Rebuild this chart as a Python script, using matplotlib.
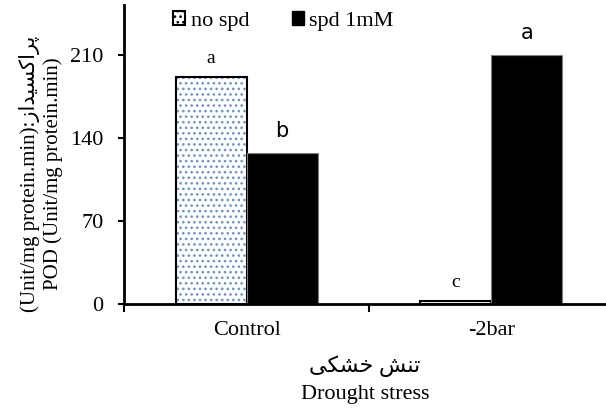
import numpy as np
import matplotlib.pyplot as plt
from matplotlib.patches import Patch

# data
categories = ['Control', '-2bar']
no_spd = [191.5, 2.5]
spd_1mM = [127.0, 210.0]
letters_no_spd = ['a', 'c']
letters_spd = ['b', 'a']
yticks = [0, 70, 140, 210]

# Persian text, pre-shaped (presentation forms, visual order)
fa_xlabel = '\uFBFD\uFB91\uFEB8\uFEA7 \uFEB6\uFEE8\uFE97'          # تنش خشکی
fa_ylabel = '\uFEAF\uFE8D\uFEAA\uFBFF\uFEB4\uFB90\uFE8D\uFEAE\uFB58'  # پراکسیداز

serif = ['Liberation Serif', 'DejaVu Sans']
plt.rcParams['font.family'] = serif
plt.rcParams['font.size'] = 16
plt.rcParams['hatch.linewidth'] = 1.1

fig = plt.figure(figsize=(6.06, 4.08), dpi=100)
ax = fig.add_axes([0.205, 0.255, 0.795, 0.733])

x = np.arange(len(categories))
w = 0.29

# no spd: dotted blue pattern, black outline
ax.bar(x - w / 2, no_spd, w, color='white', edgecolor='#6a95cc', hatch='...',
       linewidth=0)
ax.bar(x - w / 2, no_spd, w, fill=False, edgecolor='black', linewidth=1.5)
ax.bar(x + w / 2, spd_1mM, w, color='black', edgecolor='#808080', linewidth=0.8)

# significance letters
for xi, v, t in zip(x, no_spd, letters_no_spd):
    ax.text(xi - w / 2, v + 8, t, ha='center', va='bottom', fontsize=14,
            family=serif)
for xi, v, t in zip(x, spd_1mM, letters_spd):
    ax.text(xi + w / 2, v + 10, t, ha='center', va='bottom', fontsize=15,
            family='DejaVu Sans')

ax.set_xlim(-0.5, 1.468)
ax.set_ylim(0, 252)
ax.set_yticks(yticks)
ax.set_xticks([-0.5, 0.5])
ax.set_xticklabels([])
ax.set_xticks(x, minor=True)
ax.set_xticklabels(categories, minor=True)
ax.tick_params(axis='x', which='minor', length=0, pad=12, labelsize=16)
ax.tick_params(axis='x', which='major', length=6, width=1.5)
ax.tick_params(axis='y', length=4, width=1.5, labelsize=16, pad=11)

for s in ['top', 'right']:
    ax.spines[s].set_visible(False)
for s in ['left', 'bottom']:
    ax.spines[s].set_linewidth(2)

ax.set_xlabel(fa_xlabel + '\nDrought stress', fontsize=16, labelpad=11,
              linespacing=1.6)
ax.set_ylabel('(Unit/mg protein.min):' + fa_ylabel +
              '\nPOD (Unit/mg protein.min)', fontsize=15,
              linespacing=1.2)
ax.yaxis.set_label_coords(-0.128, 0.435)

handles = [Patch(facecolor='white', edgecolor='#6a95cc', hatch='...',
                 linewidth=0),
           Patch(facecolor='black', edgecolor='black')]
leg = ax.legend(handles, ['no spd', 'spd 1mM'], ncol=2, frameon=False,
                loc='upper left', bbox_to_anchor=(0.06, 1.045), fontsize=16,
                handlelength=0.55, handleheight=0.55, handletextpad=0.25,
                columnspacing=1.9)
leg.legend_handles[0].set_edgecolor('black')
leg.legend_handles[0].set_linewidth(1.5)

fig.savefig('out.png', dpi=100)
